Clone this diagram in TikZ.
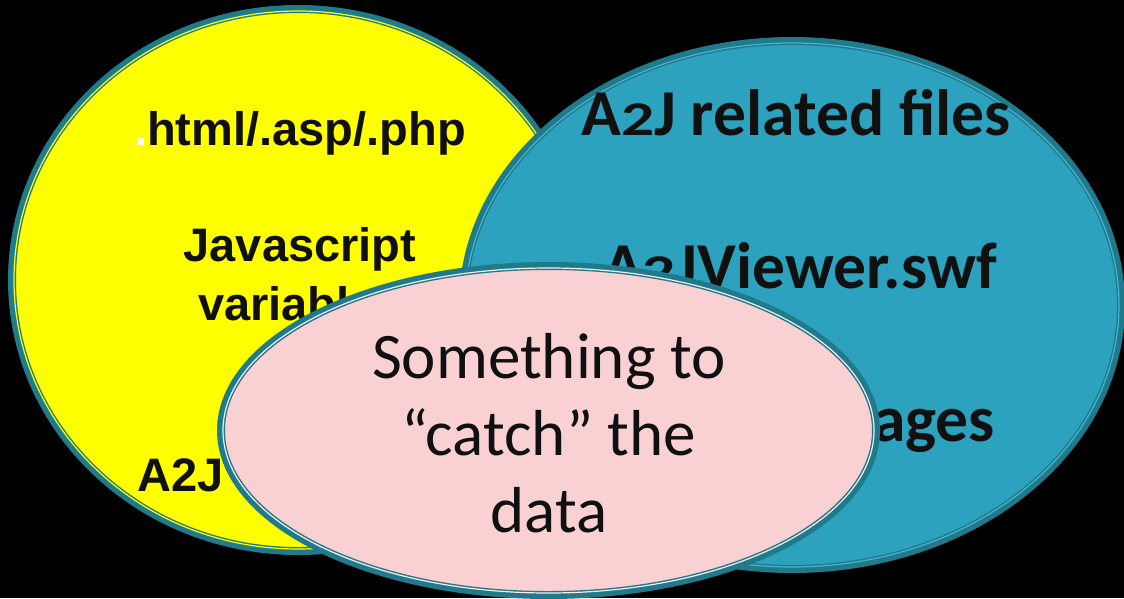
\documentclass[tikz,border=0pt]{standalone}
\usepackage{fontspec}
\setmainfont{Carlito}
\newfontfamily\arialfont{Liberation Sans}
\definecolor{rim}{HTML}{1F7A8C}
\definecolor{vennyellow}{HTML}{FFFF00}
\definecolor{vennblue}{HTML}{2CA2BF}
\definecolor{vennpink}{HTML}{F9D1D3}
\definecolor{bluelight}{HTML}{48B4CF}
\definecolor{pinklight}{HTML}{FBEDEE}
\definecolor{ink}{HTML}{101010}
\newcommand\lowtwo{\scalebox{1}[0.74]{2}}
\tikzset{
  rim/.style={draw=rim, line width=8pt},
  inner rim/.style={draw=#1, line width=1.2pt},
  lefttext/.style={font=\arialfont\bfseries\fontsize{47}{56}\selectfont, text=ink, anchor=base, inner sep=0pt},
  righttext/.style={font=\bfseries\fontsize{65.5}{77}\selectfont, text=ink, anchor=base, inner sep=0pt},
  middletext/.style={font=\fontsize{65}{77}\selectfont, text=ink, anchor=base, inner sep=0pt}
}
\begin{document}
\begin{tikzpicture}[x=1pt,y=-1pt]
\useasboundingbox (0,0) rectangle (1124,598);
\fill[black] (0,0) rectangle (1124,598);
% yellow set
\filldraw[rim, fill=vennyellow] (298,280) ellipse [x radius=286pt, y radius=271pt];
\draw[inner rim=vennyellow] (298,280) ellipse [x radius=284pt, y radius=269pt];
\node[lefttext] (html) at (300,145) {{\color{white}.}html/.asp/.php};
\node[lefttext] (js) at (300,261) {Javascript};
\node[lefttext] (vars) at (300,320) {variables};
\node[lefttext, anchor=base west] (a2j) at (137,491) {A2J};
% blue set
\filldraw[rim, fill=vennblue] (792,305) ellipse [x radius=329pt, y radius=264pt];
\draw[inner rim=bluelight] (792,305) ellipse [x radius=327pt, y radius=262pt];
\node[righttext] (related) at (796,135) {A\lowtwo J related files};
\node[righttext] (viewer) at (800,288) {A\lowtwo JViewer.swf};
\node[righttext, anchor=base east] (images) at (995,441) {Images};
% pink set
\filldraw[rim, fill=vennpink] (548.5,430.5) ellipse [x radius=327.5pt, y radius=164.5pt];
\draw[inner rim=pinklight] (548.5,430.5) ellipse [x radius=325.5pt, y radius=162.5pt];
\node[middletext] (catch1) at (549,378) {Something to};
\node[middletext] (catch2) at (549,455) {“catch” the};
\node[middletext] (catch3) at (549,532) {data};
\end{tikzpicture}
\end{document}
